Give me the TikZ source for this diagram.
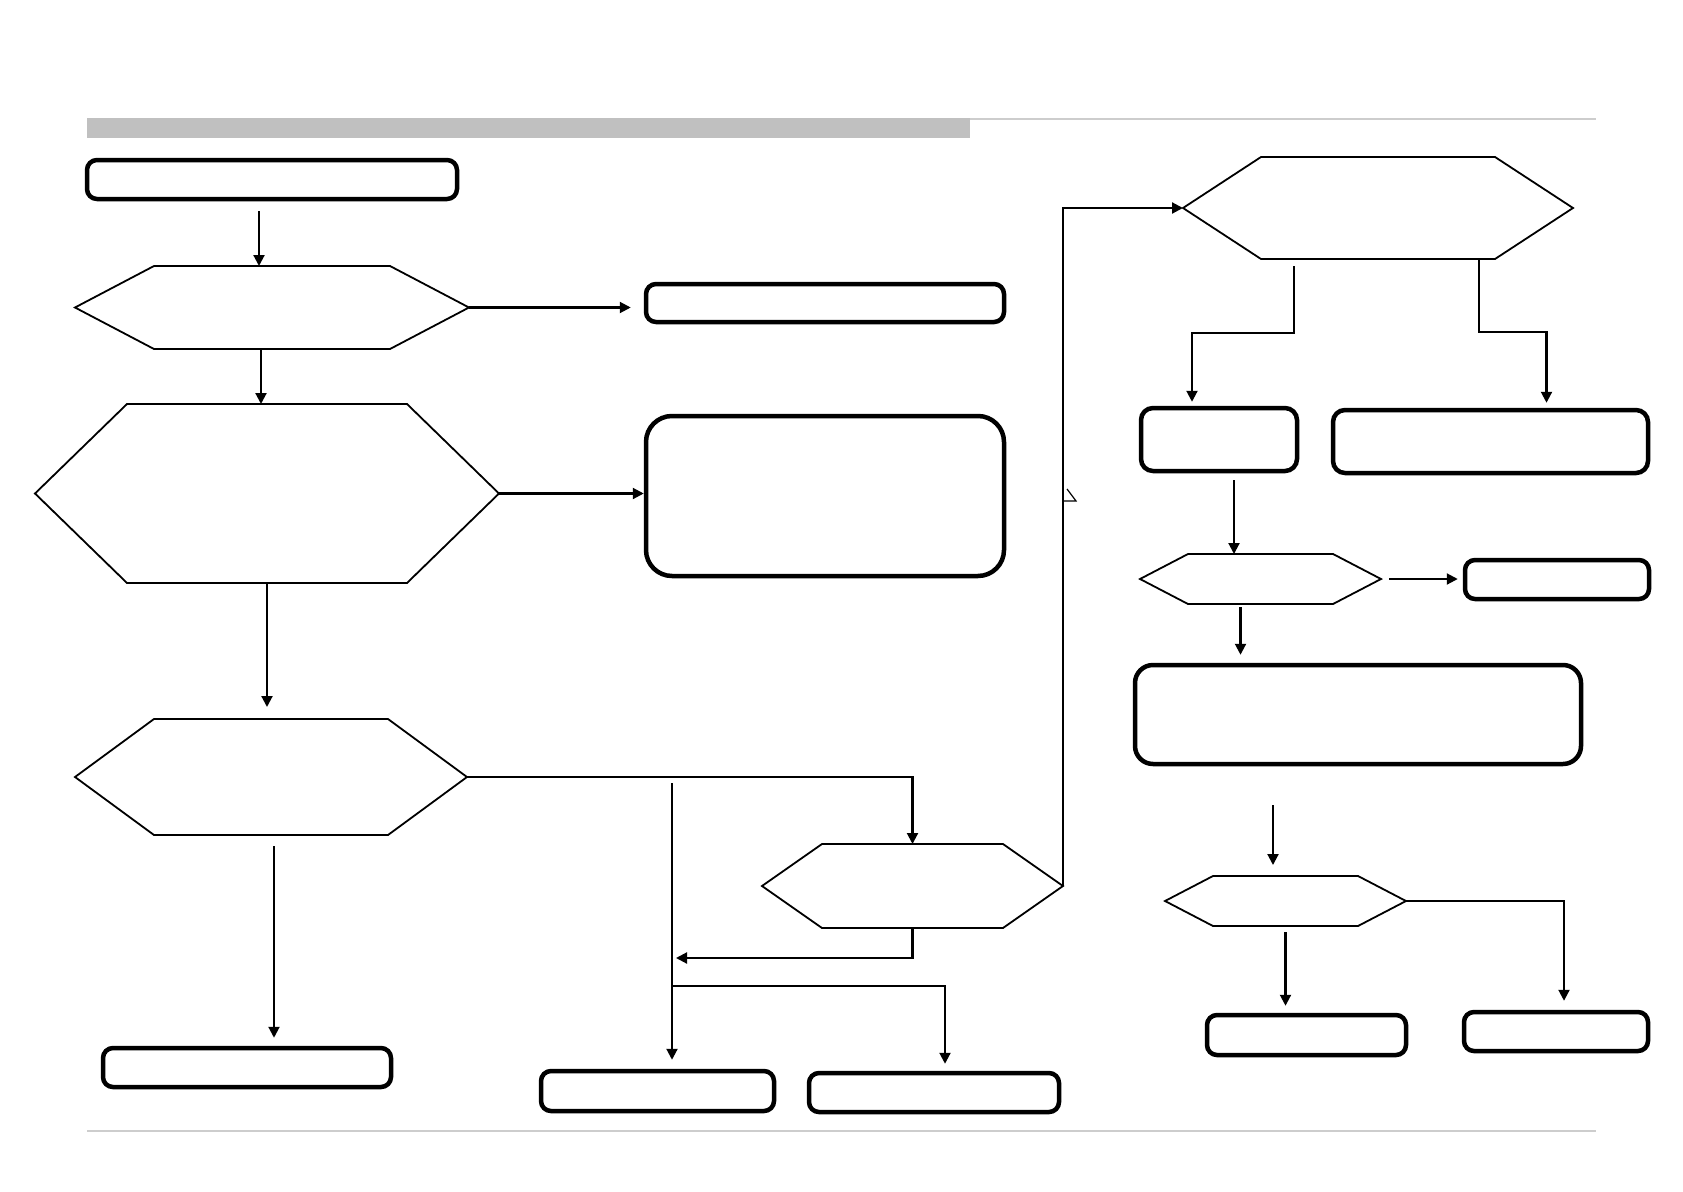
\documentclass[tikz,border=0pt]{standalone}
\usepackage{tikz}
\usetikzlibrary{arrows.meta,positioning,calc}
\definecolor{barGray}{RGB}{192,192,192}
\definecolor{ruleGray}{RGB}{205,205,205}

\tikzset{
  roundbox/.style={draw, line width=4.5pt, rounded corners=10pt, inner sep=0},
  bigbox/.style={roundbox, rounded corners=26pt},
  hexnode/.style={inner sep=0, outer sep=0},
  hexline/.style={draw, line width=1.8pt, line join=miter},
  arr/.style={line width=2.1pt, -{Triangle[length=11pt,width=11pt]}}
}

\begin{document}
\begin{tikzpicture}[x=1pt, y=-1pt]
            \useasboundingbox (0,0) rectangle (1683,1191);

            % header and footer rules
            \fill[barGray] (87,118) rectangle (970,138);
            \draw[ruleGray, line width=1.6pt] (970,119) -- (1596,119);
            \draw[ruleGray, line width=1.2pt] (87,1131) -- (1596,1131);

            % boxes
            \node[roundbox, minimum width=370pt, minimum height=39pt] (b1) at (272,179.5) {};
            \node[roundbox, minimum width=358pt, minimum height=38pt] (b2) at (825,303) {};
            \node[bigbox, minimum width=358pt, minimum height=160pt] (b3) at (825,496) {};
            \node[roundbox, minimum width=288pt, minimum height=39pt] (b4) at (247,1067.5) {};
            \node[roundbox, minimum width=233pt, minimum height=40pt] (b5) at (657.5,1091) {};
            \node[roundbox, minimum width=250pt, minimum height=39pt] (b6) at (934,1092.5) {};
            \node[roundbox, rounded corners=12pt, minimum width=156pt, minimum height=63pt] (bA) at (1219,439.5) {};
            \node[roundbox, rounded corners=12pt, minimum width=315pt, minimum height=63pt] (bB) at (1490.5,441.5) {};
            \node[roundbox, minimum width=184pt, minimum height=39pt] (bC) at (1557,579.5) {};
            \node[bigbox, rounded corners=18pt, minimum width=446pt, minimum height=99pt] (bD) at (1358,714.5) {};
            \node[roundbox, minimum width=199pt, minimum height=40pt] (bE) at (1306.5,1035) {};
            \node[roundbox, minimum width=184pt, minimum height=39pt] (bF) at (1556,1031.5) {};

            % decisions
            \node[hexnode, minimum width=394pt, minimum height=83pt] (h1) at (272,307.5) {};
            \node[hexnode, minimum width=464pt, minimum height=179pt] (h2) at (267,493.5) {};
            \node[hexnode, minimum width=392pt, minimum height=116pt] (h3) at (271,777) {};
            \node[hexnode, minimum width=301pt, minimum height=84pt] (h4) at (912.5,886) {};
            \node[hexnode, minimum width=390pt, minimum height=102pt] (h5) at (1378,208) {};
            \node[hexnode, minimum width=241pt, minimum height=50pt] (h6) at (1260.5,579) {};
            \node[hexnode, minimum width=241pt, minimum height=50pt] (h7) at (1285.5,901) {};
            \foreach \n/\d in {h1/79,h2/92,h3/79,h4/60,h5/78,h6/48,h7/48}
              \draw[hexline] (\n.west) -- ($(\n.north west)+(\d,0)$) -- ($(\n.north east)+(-\d,0)$)
                -- (\n.east) -- ($(\n.south east)+(-\d,0)$) -- ($(\n.south west)+(\d,0)$) -- cycle;

            % free ends
            \coordinate (split) at (672,783);
            \coordinate (join) at (676,958);
            \coordinate (fork) at (672,986);

            % Define the edges
            \draw[arr, shorten <=10pt] ([xshift=-13pt]b1.south) -- ([xshift=-13pt]h1.north);
            \draw[arr, shorten >=13pt] (h1.east) -- (h1.east -| b2.west);
            \draw[arr] ([xshift=-11pt]h1.south) -- ([xshift=-11pt]h1.south |- h2.north);
            \draw[arr] (h2.east) -- (h2.east -| b3.west);
            \draw[arr, shorten >=12pt] ([xshift=0pt]h2.south) -- (h2.south |- h3.north);
            \draw[arr, shorten <=11pt, shorten >=8pt] ([xshift=3pt]h3.south) -- ([xshift=3pt]h3.south |- b4.north);
            \draw[arr] (h3.east) -| (h4.north);
            \draw[arr, shorten >=9pt] (split) -- (split |- b5.north);
            \draw[arr] (h4.south) |- (join);
            \draw[arr, shorten >=7pt] (fork) -| ([xshift=11pt]b6.north);
            \draw[arr] (h4.east) -- (h4.east |- h5.west) -- (h5.west);
            \draw[line width=1.2pt] (1067,489) -- (1076,501) -- (1062,501);
            \draw[arr, shorten >=4pt] ([xshift=-84pt,yshift=-7pt]h5.south) -- ++(0,67) -| ([xshift=-27pt]bA.north);
            \draw[arr, shorten >=5pt] ([xshift=101pt]h5.south) -- ++(0,73) -| ([xshift=56pt]bB.north);
            \draw[arr, shorten <=7pt] ([xshift=15pt]bA.south) -- ([xshift=15pt]bA.south |- h6.north);
            \draw[arr, shorten <=8pt, shorten >=5pt] (h6.east) -- (h6.east -| bC.west);
            \draw[arr, shorten <=3pt, shorten >=8pt] ([xshift=-20pt]h6.south) -- ([xshift=-20pt]h6.south |- bD.north);
            \draw[arr, shorten <=39pt, shorten >=11pt] ([xshift=-85pt]bD.south) -- ([xshift=-85pt]bD.south |- h7.north);
            \draw[arr, shorten <=6pt, shorten >=7pt] (h7.south) -- (h7.south |- bE.north);
            \draw[arr, shorten >=9pt] (h7.east) -| ([xshift=8pt]bF.north);
      \end{tikzpicture}
\end{document}
